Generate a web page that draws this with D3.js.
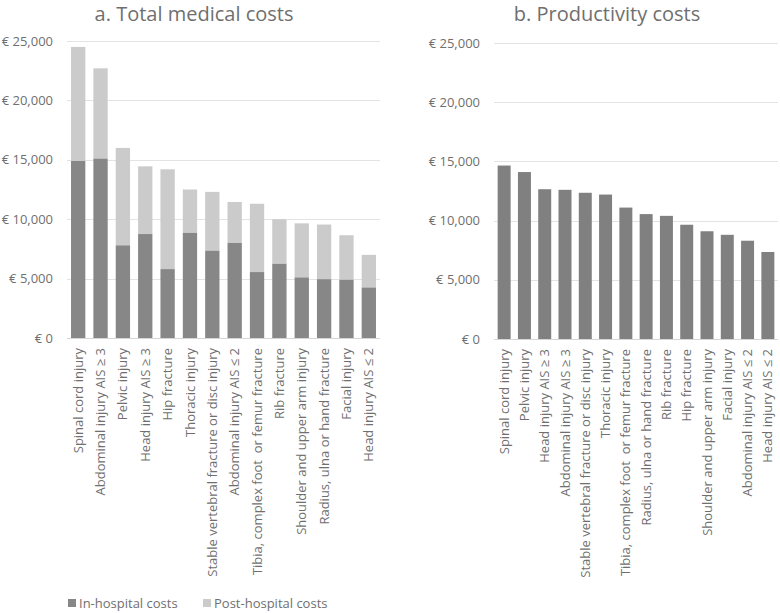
<!DOCTYPE html>
<html>
<head>
<meta charset="utf-8">
<style>
    body { margin: 0; background: #fff; }
    svg { font-family: 'Open Sans', sans-serif; }
    .lbl { white-space: pre; }
</style>
</head>
<body>
<svg width="780" height="613"></svg>
<script src="https://d3js.org/d3.v7.min.js"></script>
<script>
    //------------------------DATA------------------------//
    // panel a: total medical costs, split in-hospital / post-hospital
    let medCategories = ["Spinal cord injury", "Abdominal injury AIS \u2265 3", "Pelvic injury", "Head injury AIS \u2265 3",
        "Hip fracture", "Thoracic injury", "Stable vertebral fracture or disc injury", "Abdominal injury AIS \u2264 2",
        "Tibia, complex foot  or femur fracture", "Rib fracture", "Shoulder and upper arm injury",
        "Radius, ulna or hand fracture", "Facial injury", "Head injury AIS \u2264 2"]
    let inHospital = [14900, 15100, 7800, 8750, 5800, 8850, 7350, 8000, 5550, 6250, 5100, 4950, 4900, 4250]
    let totalMedical = [24500, 22700, 16000, 14450, 14200, 12500, 12300, 11450, 11300, 10000, 9650, 9550, 8650, 7000]

    // panel b: productivity costs
    let prodCategories = ["Spinal cord injury", "Pelvic injury", "Head injury AIS \u2265 3", "Abdominal injury AIS \u2265 3",
        "Stable vertebral fracture or disc injury", "Thoracic injury", "Tibia, complex foot  or femur fracture",
        "Radius, ulna or hand fracture", "Rib fracture", "Hip fracture", "Shoulder and upper arm injury",
        "Facial injury", "Abdominal injury AIS \u2264 2", "Head injury AIS \u2264 2"]
    let prodCosts = [14650, 14100, 12650, 12600, 12350, 12200, 11100, 10550, 10400, 9650, 9100, 8800, 8300, 7350]

    let yTicks = [0, 5000, 10000, 15000, 20000, 25000]
    let legendLabels = ["In-hospital costs", "Post-hospital costs"]

    //------------------------STYLE------------------------//
    let textColor = "#6f6f6f"
    let darkGrey = "#878787"
    let lightGrey = "#cbcbcb"
    let gridColor = "#e3e3e3"
    let euro = v => "\u20ac " + d3.format(",")(v)

    let svg = d3.select("svg")

    //draw one panel's frame (grid, y labels, x labels, title); returns scales
    function panel(cats, xRange, yRange, title, titleX) {
        let x = d3.scaleBand().domain(cats).range(xRange).paddingInner(0.36).paddingOuter(0.18)
        let y = d3.scaleLinear().domain([0, 25000]).range(yRange)
        let g = svg.append("g")

        g.selectAll(".grid")
            .data(yTicks)
            .join("line")
            .attr("x1", xRange[0]).attr("x2", xRange[1])
            .attr("y1", d => Math.round(y(d)) + 0.5).attr("y2", d => Math.round(y(d)) + 0.5)
            .style("stroke", d => d == 0 ? "#d6d6d6" : gridColor)
            .style("stroke-width", 1)

        g.selectAll(".ytick")
            .data(yTicks)
            .join("text")
            .attr("x", xRange[0] - 14)
            .attr("y", d => y(d))
            .attr("dy", "0.35em")
            .attr("text-anchor", "end")
            .style("font-size", "13px")
            .style("fill", textColor)
            .text(euro)

        g.selectAll(".xlab")
            .data(cats)
            .join("text")
            .attr("class", "lbl")
            .attr("transform", d => "translate(" + (x(d) + x.bandwidth() / 2) + "," + (yRange[0] + 10) + ") rotate(-90)")
            .attr("dy", "0.35em")
            .attr("text-anchor", "end")
            .style("font-size", "13px")
            .style("fill", textColor)
            .text(d => d)

        g.append("text")
            .attr("x", titleX).attr("y", 21)
            .attr("text-anchor", "middle")
            .style("font-size", "20px")
            .style("fill", textColor)
            .text(title)

        return {x: x, y: y, g: g}
    }

    //------------------------PANEL A------------------------//
    let a = panel(medCategories, [67, 380], [338, 41], "a. Total medical costs", 194)
    let medRows = medCategories.map((c, i) => ({cat: c, inH: inHospital[i], total: totalMedical[i]}))

    a.g.selectAll(".post")
        .data(medRows)
        .join("rect")
        .attr("x", d => a.x(d.cat))
        .attr("width", a.x.bandwidth())
        .attr("y", d => a.y(d.total))
        .attr("height", d => a.y(d.inH) - a.y(d.total))
        .style("fill", lightGrey)

    a.g.selectAll(".inh")
        .data(medRows)
        .join("rect")
        .attr("x", d => a.x(d.cat))
        .attr("width", a.x.bandwidth())
        .attr("y", d => a.y(d.inH))
        .attr("height", d => a.y(0) - a.y(d.inH))
        .style("fill", darkGrey)

    //------------------------PANEL B------------------------//
    let b = panel(prodCategories, [494, 778], [339, 43], "b. Productivity costs", 607)

    b.g.selectAll(".prod")
        .data(prodCategories)
        .join("rect")
        .attr("x", d => b.x(d))
        .attr("width", b.x.bandwidth())
        .attr("y", (d, i) => b.y(prodCosts[i]))
        .attr("height", (d, i) => b.y(0) - b.y(prodCosts[i]))
        .style("fill", "#808080")

    //------------------------LEGEND------------------------//
    let legend = svg.append("g").attr("transform", "translate(68,603)")
    let legendX = [0, 135]
    let legendColors = [darkGrey, lightGrey]
    legendLabels.forEach((l, i) => {
        legend.append("rect")
            .attr("x", legendX[i]).attr("y", -4)
            .attr("width", 8).attr("height", 8)
            .style("fill", legendColors[i])
        legend.append("text")
            .attr("x", legendX[i] + 11).attr("y", 0)
            .attr("dy", "0.35em")
            .style("font-size", "13px")
            .style("fill", textColor)
            .text(l)
    })
</script>
</body>
</html>
